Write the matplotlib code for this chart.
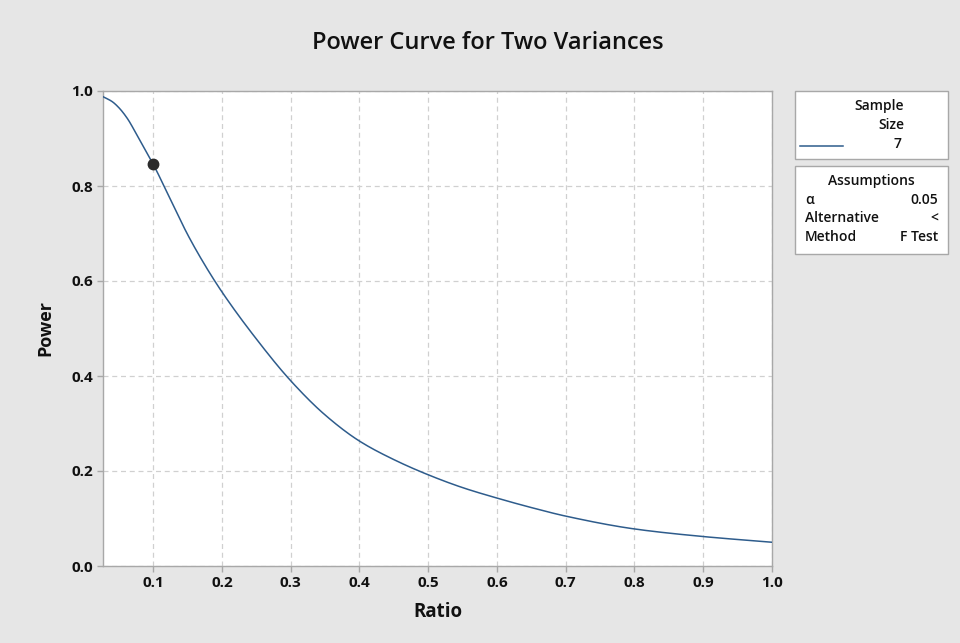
import matplotlib
matplotlib.use("Agg")
import matplotlib.pyplot as plt
from matplotlib.patches import Rectangle
from matplotlib.lines import Line2D
import numpy as np

ratio = [0.027, 0.04, 0.05, 0.0625, 0.075, 0.0875, 0.1, 0.125, 0.15, 0.175, 0.2, 0.25, 0.3, 0.35, 0.4,
         0.45, 0.5, 0.55, 0.6, 0.65, 0.7, 0.8, 0.9, 1.0]
power = [0.988, 0.978, 0.965, 0.942, 0.911, 0.879, 0.846, 0.772, 0.698, 0.634, 0.577, 0.478, 0.390, 0.318, 0.263,
         0.224, 0.192, 0.165, 0.143, 0.123, 0.105, 0.078, 0.062, 0.050]
point_ratio = [0.1]
point_power = [0.846]
xticks = [0.1, 0.2, 0.3, 0.4, 0.5, 0.6, 0.7, 0.8, 0.9, 1.0]
yticks = [0.0, 0.2, 0.4, 0.6, 0.8, 1.0]
sample_size = "7"
assumptions = [("α", "0.05"), ("Alternative", "<"), ("Method", "F Test")]

plt.rcParams['font.family'] = ['Open Sans', 'DejaVu Sans']

W, H = 960, 643
fig = plt.figure(figsize=(W / 100, H / 100), dpi=100, facecolor="#e6e6e6")

def fx(px):
    return px / W

def fy(py):
    return 1 - py / H

ax = fig.add_axes([fx(103), fy(566), fx(772 - 103), (566 - 91) / H])
ax.set_facecolor("white")

# monotone cubic (PCHIP) interpolation of the read points for a smooth display line
xs = np.array(ratio)
ys = np.array(power)
h = np.diff(xs)
d = np.diff(ys) / h
m = np.zeros_like(ys)
for k in range(1, len(xs) - 1):
    if d[k - 1] * d[k] > 0:
        w1 = 2 * h[k] + h[k - 1]
        w2 = h[k] + 2 * h[k - 1]
        m[k] = (w1 + w2) / (w1 / d[k - 1] + w2 / d[k])
m[0] = d[0]
m[-1] = d[-1]
fine_x, fine_y = [], []
for k in range(len(xs) - 1):
    for t in np.linspace(0, 1, 25, endpoint=False):
        h00 = 2 * t**3 - 3 * t**2 + 1
        h10 = t**3 - 2 * t**2 + t
        h01 = -2 * t**3 + 3 * t**2
        h11 = t**3 - t**2
        fine_x.append(xs[k] + t * h[k])
        fine_y.append(h00 * ys[k] + h10 * h[k] * m[k] + h01 * ys[k + 1] + h11 * h[k] * m[k + 1])
fine_x.append(xs[-1])
fine_y.append(ys[-1])

ax.plot(fine_x, fine_y, color="#2e5c8c", lw=1.1, zorder=3)
ax.plot(point_ratio, point_power, 'o', color="#2b2b2b", ms=7.5, zorder=4)

ax.set_xlim(0.027, 1.0)
ax.set_ylim(0.0, 1.0)
ax.set_xticks(xticks)
ax.set_yticks(yticks)
ax.set_xticklabels([f"{v:.1f}" for v in xticks], fontsize=11, fontweight="bold")
ax.set_yticklabels([f"{v:.1f}" for v in yticks], fontsize=11, fontweight="bold")
ax.grid(True, color="#d0d0d0", ls=(0, (4, 3)), lw=0.9)
ax.set_axisbelow(True)
for s in ax.spines.values():
    s.set_color("#a8a8a8")
    s.set_linewidth(1.0)
ax.tick_params(direction="out", length=4, width=1, color="#a8a8a8", labelcolor="#111111", pad=3)

ax.set_xlabel("Ratio", fontsize=13.5, fontweight="bold", color="#111111", labelpad=9)
ax.set_ylabel("Power", fontsize=13, fontweight="bold", color="#111111", labelpad=12)
fig.text(fx(488), fy(43), "Power Curve for Two Variances", fontsize=17, fontweight="semibold",
         ha="center", va="center", color="#111111")

txt = dict(fontsize=10, fontweight="semibold", color="#111111", va="baseline")

# legend box 1
fig.patches.append(Rectangle((fx(795), fy(159)), fx(948 - 795), (159 - 91) / H,
                             transform=fig.transFigure, facecolor="white", edgecolor="#a8a8a8", lw=1.0))
fig.text(fx(904), fy(110), "Sample", ha="right", **txt)
fig.text(fx(904), fy(129), "Size", ha="right", **txt)
fig.text(fx(902), fy(148), sample_size, ha="right", **txt)
fig.lines.append(Line2D([fx(800), fx(843)], [fy(146), fy(146)], transform=fig.transFigure, color="#2e5c8c", lw=1.1))

# legend box 2
fig.patches.append(Rectangle((fx(795), fy(254)), fx(948 - 795), (254 - 166) / H,
                             transform=fig.transFigure, facecolor="white", edgecolor="#a8a8a8", lw=1.0))
fig.text(fx(871), fy(185), "Assumptions", ha="center", **txt)
for i, (k, v) in enumerate(assumptions):
    yy = 204 + i * 18.5
    fig.text(fx(805), fy(yy), k, ha="left", **txt)
    fig.text(fx(938), fy(yy), v, ha="right", **txt)

fig.savefig("out.png", dpi=100, facecolor=fig.get_facecolor())
